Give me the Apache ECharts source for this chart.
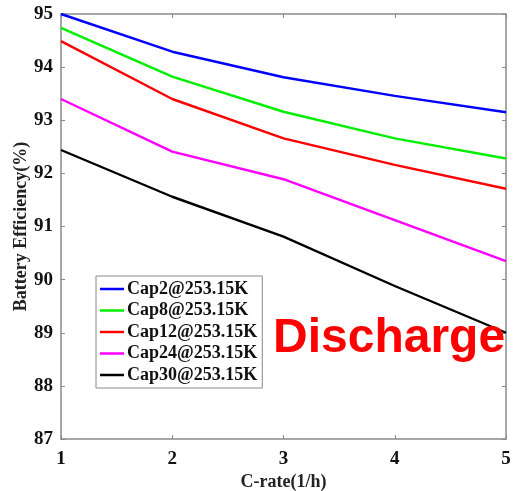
<!DOCTYPE html>
<html>
<head>
<meta charset="utf-8">
<script src="https://cdn.jsdelivr.net/npm/echarts@6/dist/echarts.min.js"></script>
<style>html,body{margin:0;padding:0;background:#fff;}#c{width:514px;height:491px;}</style>
</head>
<body>
<div id="c"></div>
<script>
const cRates = [1, 2, 3, 4, 5];
const seriesNames = ['Cap2@253.15K', 'Cap8@253.15K', 'Cap12@253.15K', 'Cap24@253.15K', 'Cap30@253.15K'];
const cap2 = [95.00, 94.29, 93.81, 93.46, 93.15];
const cap8 = [94.74, 93.82, 93.16, 92.66, 92.28];
const cap12 = [94.49, 93.40, 92.66, 92.16, 91.71];
const cap24 = [93.40, 92.41, 91.89, 91.12, 90.35];
const cap30 = [92.44, 91.56, 90.81, 89.88, 89.00];
const seriesColors = ['#0000ff', '#00ee00', '#ff0000', '#ff00ff', '#000000'];
const allValues = [cap2, cap8, cap12, cap24, cap30];

const serif = "'Liberation Serif', 'Times New Roman', serif";
const axisGrey = '#8a8a8a';

const chart = echarts.init(document.getElementById('c'));
const series = allValues.map((vals, i) => ({
  name: seriesNames[i],
  type: 'line',
  data: vals.map((v, j) => [cRates[j], v]),
  symbol: 'none',
  lineStyle: { color: seriesColors[i], width: 2.4 },
  itemStyle: { color: seriesColors[i] },
  z: 3
}));

const baseTick = { show: true, inside: true, length: 4, lineStyle: { color: axisGrey } };
chart.setOption({
  animation: false,
  backgroundColor: '#fff',
  grid: { left: 61, right: 8, top: 14, bottom: 52, containLabel: false, outerBoundsMode: 'none' },
  xAxis: [{
    type: 'value', min: 1, max: 5, interval: 1,
    name: 'C-rate(1/h)', nameLocation: 'middle', nameGap: 34, nameMoveOverlap: false,
    nameTextStyle: { fontFamily: serif, fontWeight: 'bold', fontSize: 18, color: '#222' },
    axisLine: { show: true, lineStyle: { color: axisGrey, width: 1.5 } },
    axisTick: baseTick,
    axisLabel: { fontFamily: serif, fontWeight: 'bold', fontSize: 19, color: '#111', margin: 11 },
    splitLine: { show: false }
  }, {
    type: 'value', min: 1, max: 5, interval: 1, position: 'top',
    axisLine: { show: true, lineStyle: { color: axisGrey, width: 1.5 } },
    axisTick: baseTick, axisLabel: { show: false }, splitLine: { show: false }
  }],
  yAxis: [{
    type: 'value', min: 87, max: 95, interval: 1,
    name: 'Battery Efficiency(%)', nameLocation: 'middle', nameGap: 31, nameMoveOverlap: false,
    nameTextStyle: { fontFamily: serif, fontWeight: 'bold', fontSize: 18, color: '#222' },
    axisLine: { show: true, lineStyle: { color: axisGrey, width: 1.5 } },
    axisTick: baseTick,
    axisLabel: { fontFamily: serif, fontWeight: 'bold', fontSize: 19, color: '#111', margin: 8 },
    splitLine: { show: false }
  }, {
    type: 'value', min: 87, max: 95, interval: 1, position: 'right',
    axisLine: { show: true, lineStyle: { color: axisGrey, width: 1.5 } },
    axisTick: baseTick, axisLabel: { show: false }, splitLine: { show: false }
  }],
  legend: {
    orient: 'vertical', left: 96, top: 276,
    icon: 'rect', itemWidth: 24, itemHeight: 2.5, itemGap: 3.5,
    padding: [4, 5, 4, 4],
    borderColor: '#888', borderWidth: 1, backgroundColor: '#fff',
    textStyle: { fontFamily: serif, fontWeight: 'bold', fontSize: 18, lineHeight: 18, color: '#111', padding: [0, 0, 0, -2] },
    data: seriesNames
  },
  graphic: [{
    type: 'text', left: 273, top: 315, z: 10,
    style: { text: 'Discharge', fill: '#ff0000', font: "bold 48px 'Liberation Sans', Arial, sans-serif" }
  }],
  series: series
});
</script>
</body>
</html>
